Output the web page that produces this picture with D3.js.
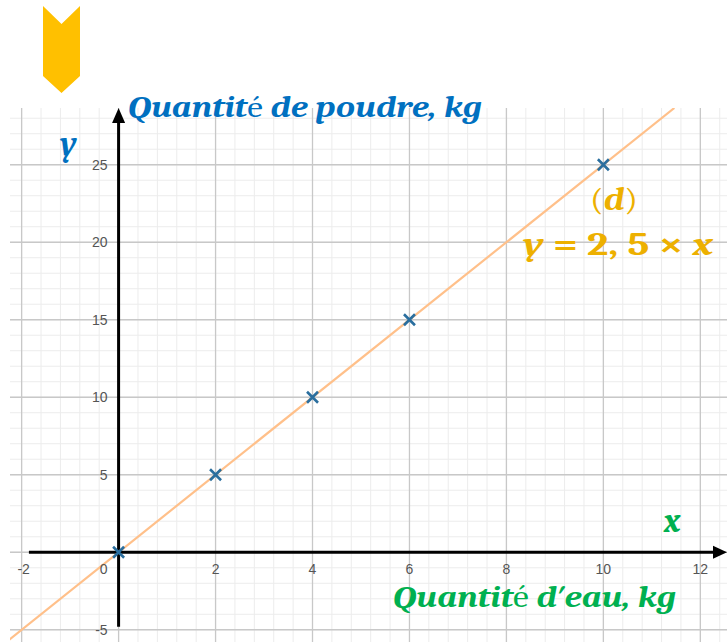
<!DOCTYPE html>
<html>
<head>
<meta charset="utf-8">
<script src="https://cdn.jsdelivr.net/npm/d3@7"></script>
<style>
  html, body { margin: 0; padding: 0; background: #fff; }
  svg { display: block; }
</style>
</head>
<body>
<div id="chart"></div>
<script>
// values
const xTicks = [-2, 0, 2, 4, 6, 8, 10, 12]
const yTicks = [-5, 0, 5, 10, 15, 20, 25]
const pointsX = [0, 2, 4, 6, 10]
const pointsY = [0, 5, 10, 15, 25]
const slope = 2.5
const xDomain = [-2.24, 12.55]
const yDomain = [-5.79, 28.66]

const width = 727, height = 642
const PLOT = { left: 10, right: 727, top: 108, bottom: 642 }

const BLUE = '#0070C0', GREEN = '#00B050', GOLD = '#EDB000'

const $svg = d3.select('#chart').append('svg')
    .attr('width', width)
    .attr('height', height)

const x = d3.scaleLinear().domain(xDomain).range([PLOT.left, PLOT.right])
const y = d3.scaleLinear().domain(yDomain).range([PLOT.bottom, PLOT.top])

// chevron at top left
$svg.append('path')
    .attr('d', 'M43,6 L61.5,24 L80,6 L80,76 L61.5,93 L43,76 Z')
    .attr('fill', '#FFC000')

$svg.append('defs').append('clipPath').attr('id', 'plot-clip')
    .append('rect')
    .attr('x', PLOT.left).attr('y', PLOT.top)
    .attr('width', PLOT.right - PLOT.left).attr('height', PLOT.bottom - PLOT.top)

const $grid = $svg.append('g').attr('clip-path', 'url(#plot-clip)')

// minor grid
const minorX = d3.range(-2.4, 12.8, 0.4)
const minorY = d3.range(-6, 30, 1)
$grid.selectAll('.minor-x').data(minorX).enter().append('line')
    .attr('x1', d => x(d)).attr('x2', d => x(d))
    .attr('y1', PLOT.top).attr('y2', PLOT.bottom)
    .attr('stroke', '#ececec').attr('stroke-width', 1)
$grid.selectAll('.minor-y').data(minorY).enter().append('line')
    .attr('y1', d => y(d)).attr('y2', d => y(d))
    .attr('x1', PLOT.left).attr('x2', PLOT.right)
    .attr('stroke', '#ececec').attr('stroke-width', 1)

// major grid
$grid.selectAll('.major-x').data(xTicks).enter().append('line')
    .attr('x1', d => x(d)).attr('x2', d => x(d))
    .attr('y1', PLOT.top).attr('y2', PLOT.bottom)
    .attr('stroke', '#c8c8c8').attr('stroke-width', 1.3)
$grid.selectAll('.major-y').data(yTicks).enter().append('line')
    .attr('y1', d => y(d)).attr('y2', d => y(d))
    .attr('x1', PLOT.left).attr('x2', PLOT.right)
    .attr('stroke', '#c8c8c8').attr('stroke-width', 1.3)

// the line y = 2.5 x
$grid.append('line')
    .attr('x1', x(yDomain[0] / slope - 0.2)).attr('y1', y(slope * (yDomain[0] / slope - 0.2)))
    .attr('x2', x(yDomain[1] / slope)).attr('y2', y(yDomain[1]))
    .attr('stroke', '#FFC08A').attr('stroke-width', 2.2)

// axes
$svg.append('line')
    .attr('x1', x(-1.85)).attr('x2', PLOT.right - 10)
    .attr('y1', y(0)).attr('y2', y(0))
    .attr('stroke', '#000').attr('stroke-width', 3)
$svg.append('path')
    .attr('d', `M${PLOT.right},${y(0)} L${PLOT.right - 14},${y(0) - 6.5} L${PLOT.right - 14},${y(0) + 6.5} Z`)
    .attr('fill', '#000')
$svg.append('line')
    .attr('x1', x(0)).attr('x2', x(0))
    .attr('y1', y(-4.8)).attr('y2', PLOT.top + 10)
    .attr('stroke', '#000').attr('stroke-width', 3)
$svg.append('path')
    .attr('d', `M${x(0)},${PLOT.top} L${x(0) - 6.5},${PLOT.top + 15} L${x(0) + 6.5},${PLOT.top + 15} Z`)
    .attr('fill', '#000')

// tick labels
$svg.selectAll('.x-label').data(xTicks).enter().append('text')
    .attr('x', d => d === 0 ? x(0) - 15 : x(d) + (d < 0 ? 2 : 0))
    .attr('y', y(0) + 22)
    .attr('text-anchor', 'middle')
    .attr('font-family', 'Liberation Sans, Arial, sans-serif')
    .attr('font-size', 14)
    .attr('fill', '#555')
    .text(d => d)
$svg.selectAll('.y-label').data(yTicks.filter(d => d !== 0)).enter().append('text')
    .attr('x', x(0) - 11)
    .attr('y', d => y(d) + 5)
    .attr('text-anchor', 'end')
    .attr('font-family', 'Liberation Sans, Arial, sans-serif')
    .attr('font-size', 14)
    .attr('fill', '#555')
    .text(d => d)

// points
const pts = pointsX.map((d, i) => [d, pointsY[i]])
const s = 5.5
$svg.selectAll('.pt').data(pts).enter().append('path')
    .attr('d', d => {
        const px = x(d[0]), py = y(d[1])
        return `M${px - s},${py - s}L${px + s},${py + s}M${px - s},${py + s}L${px + s},${py - s}`
    })
    .attr('stroke', '#2A6E9E').attr('stroke-width', 2.6)

// texts
const serif = 'Cambria, Liberation Serif, DejaVu Serif, serif'

const mixedText = (parts, xPos, yPos, size, color, len) => {
    const t = $svg.append('text')
        .attr('x', xPos).attr('y', yPos)
        .attr('font-family', serif)
        .attr('font-size', size)
        .attr('fill', color)
    if (len) t.attr('textLength', len).attr('lengthAdjust', 'spacingAndGlyphs')
    parts.forEach(p => {
        t.append('tspan')
            .attr('font-style', p[1] ? 'italic' : 'normal')
            .attr('font-weight', p[2] ? 'bold' : 'normal')
            .text(p[0])
    })
    return t
}

mixedText([['Quantit', 1, 1], ['é', 0, 0], [' de poudre, kg', 1, 1]], 128, 117, 30, BLUE, 354)
mixedText([['y', 1, 1]], 60, 155, 34, BLUE)
mixedText([['x', 1, 1]], 664, 532, 34, GREEN)
mixedText([['Quantit', 1, 1], ['é', 0, 0], [' d\u2032eau, kg', 1, 1]], 393, 607, 31, GREEN, 283)
mixedText([['(', 0, 0], ['d', 1, 1], [')', 0, 0]], 590, 210, 32, GOLD, 48)
mixedText([['y', 1, 1], [' = ', 0, 1], ['2, 5', 0, 1], [' × ', 0, 1], ['x', 1, 1]], 523, 255, 32, GOLD, 190)
</script>
</body>
</html>
